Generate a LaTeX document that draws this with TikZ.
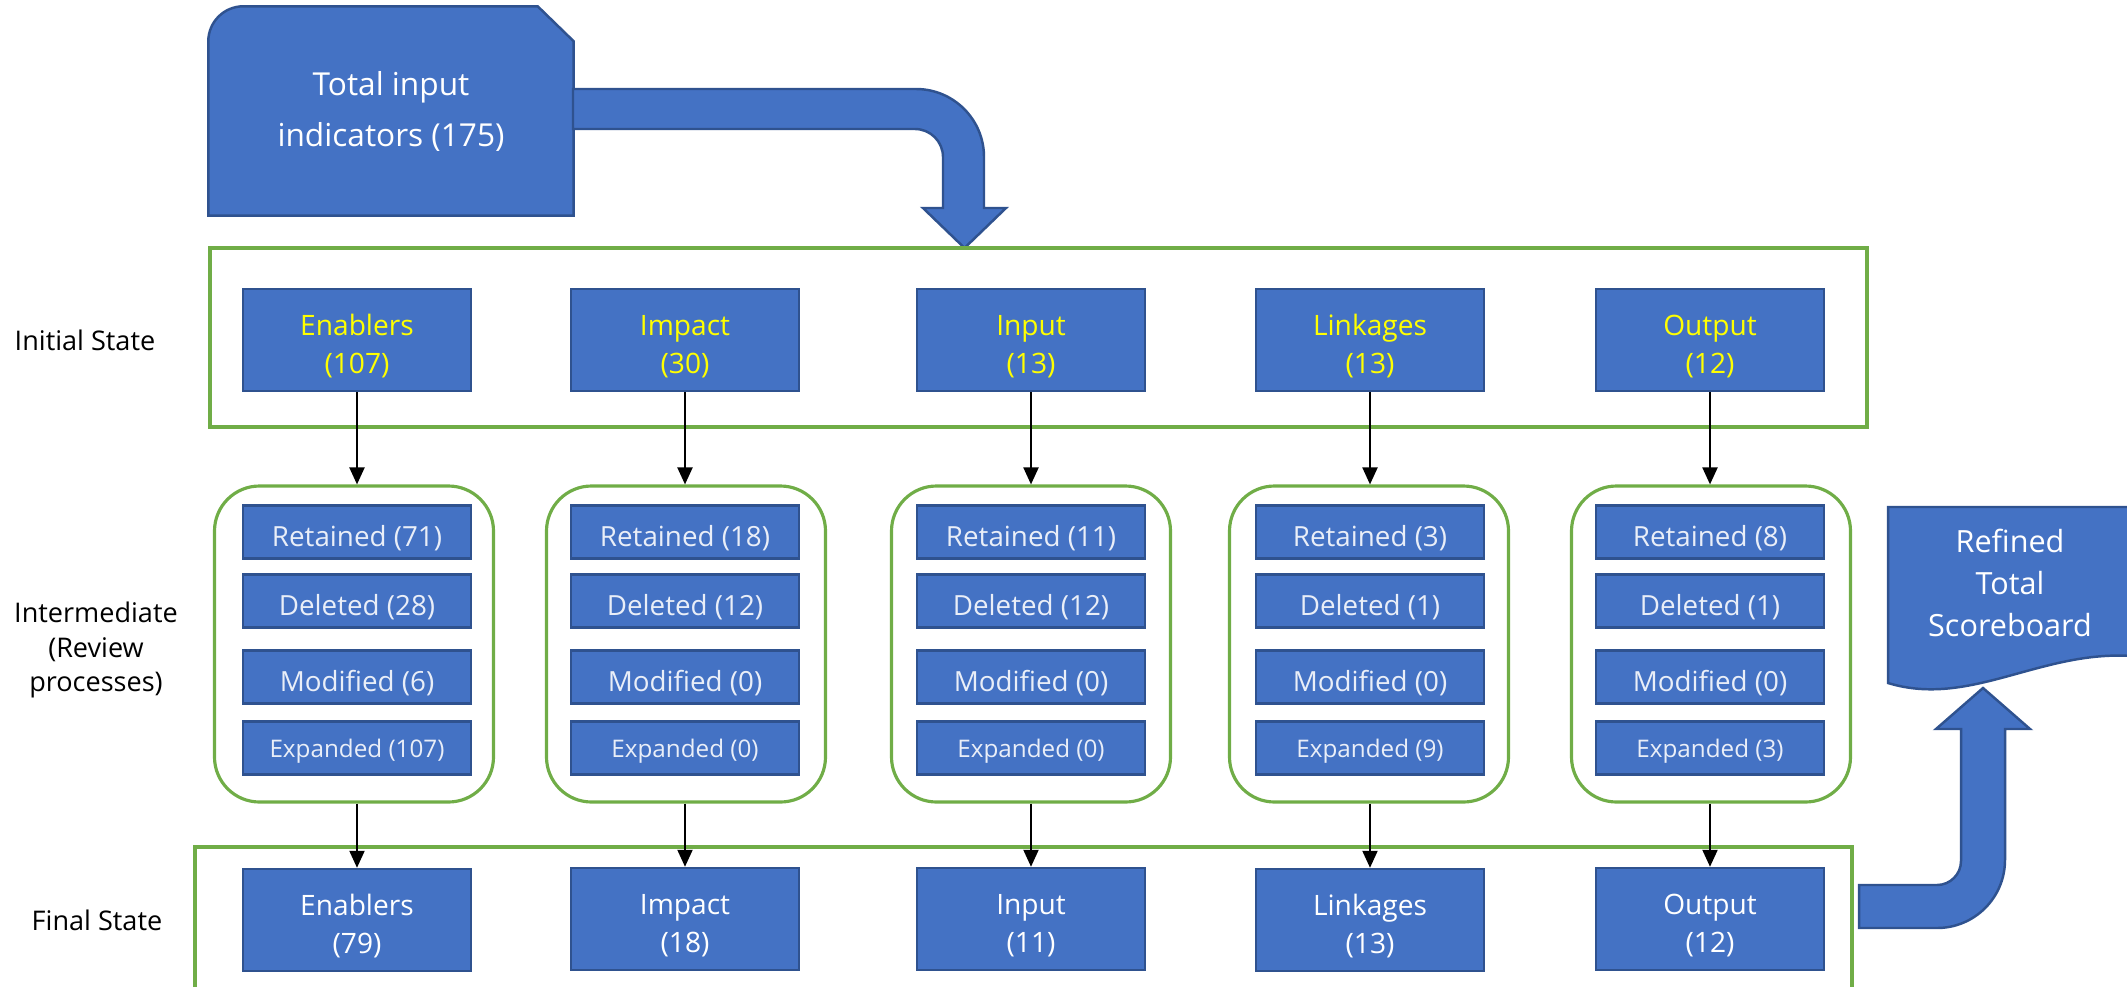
\documentclass[tikz,border=0pt]{standalone}
\usepackage{fontspec}
\setmainfont{Open Sans}
\usetikzlibrary{arrows.meta,backgrounds}
\definecolor{boxblue}{HTML}{4472C4}
\definecolor{edgeblue}{HTML}{2F528F}
\definecolor{framegreen}{HTML}{70AD47}
\definecolor{labelyellow}{HTML}{FFFF00}
\newcommand{\topstrut}{\rule{0pt}{9.3pt}}

\begin{document}
\begin{tikzpicture}
              \tikzstyle{catbox}=[draw=edgeblue, fill=boxblue, line width=0.7pt, minimum width=2.28cm, minimum height=1.02cm, align=center, inner sep=0pt, font=\fontsize{8}{10.8}\selectfont]
              \tikzstyle{initbox}=[catbox, text=labelyellow]
              \tikzstyle{finalbox}=[catbox, text=white]
              \tikzstyle{stepbox}=[draw=edgeblue, fill=boxblue, line width=0.7pt, minimum width=2.28cm, minimum height=0.53cm, inner sep=0pt, text height=8.6pt, text depth=0.26pt, text=white!88!boxblue, font=\fontsize{7.9}{9}\selectfont]
              \tikzstyle{expbox}=[stepbox, text height=5.4pt, text depth=0.24pt, font=\fontsize{6.9}{8}\selectfont]
              \tikzstyle{groupbox}=[draw=framegreen, line width=0.9pt, rounded corners=0.45cm, minimum width=2.79cm, minimum height=3.16cm]
              \tikzstyle{stateframe}=[draw=framegreen, line width=0.9pt, minimum width=16.57cm, minimum height=1.79cm]
              \tikzstyle{rowlabel}=[align=center, font=\fontsize{7.7}{9.7}\selectfont]
              \tikzstyle{flow}=[black, line width=0.6pt, -{Triangle[length=1.7mm,width=1.5mm]}]
              \tikzstyle{blockshape}=[draw=edgeblue, fill=boxblue, line width=0.7pt]
              \useasboundingbox (0,0) rectangle (21.27,-9.87);
              \node [rowlabel] (lblinit) at (0.85,-3.40) {Initial State};
              \node [rowlabel] (lblmid) at (0.96,-6.50) {Intermediate\\(Review\\processes)};
              \node [rowlabel] (lblfinal) at (0.97,-9.20) {Final State};
              \node [align=center, text=white, minimum width=3.64cm, minimum height=2.08cm, font=\fontsize{9}{14.5}\selectfont] (total) at (3.91,-1.11) {Total input\\indicators (175)};
              \begin{scope}[on background layer]
              \draw [blockshape] (total.south west) -- ([yshift=-0.35cm]total.north west) arc (180:90:0.35) -- ([xshift=-0.36cm]total.north east) -- ([yshift=-0.35cm]total.north east) -- (total.south east) -- cycle;
              \draw [blockshape] (18.88,-5.07) -- (21.40,-5.07) -- (21.40,-6.56) -- (21.32,-6.56) .. controls (20.40,-6.50) and (19.70,-7.08) .. (18.88,-6.83) -- cycle;
              \end{scope}
              \draw [blockshape] (5.73,-0.89) -- (9.16,-0.89) arc (90:0:0.68) -- (9.84,-2.08) -- (10.06,-2.08) -- (9.645,-2.48) -- (9.23,-2.08) -- (9.43,-2.08) -- (9.43,-1.57) arc (0:90:0.28) -- (5.73,-1.29) -- cycle;
              \node [stateframe] (initframe) at (10.385,-3.375) {};
              \draw [framegreen, line width=0.9pt] (1.95,-9.87) -- (1.95,-8.47) -- (18.52,-8.47) -- (18.52,-9.87);
              \node [initbox] (init1) at (3.57,-3.40) {\topstrut Enablers\\(107)};
              \node [initbox] (init2) at (6.85,-3.40) {\topstrut Impact\\(30)};
              \node [initbox] (init3) at (10.31,-3.40) {\topstrut Input\\(13)};
              \node [initbox] (init4) at (13.70,-3.40) {\topstrut Linkages\\(13)};
              \node [initbox] (init5) at (17.10,-3.40) {\topstrut Output\\(12)};
              \node [groupbox] (grp1) at (3.54,-6.44) {};
              \node [groupbox] (grp2) at (6.86,-6.44) {};
              \node [groupbox] (grp3) at (10.31,-6.44) {};
              \node [groupbox] (grp4) at (13.69,-6.44) {};
              \node [groupbox] (grp5) at (17.11,-6.44) {};
              \node [stepbox] (ret1) at (3.57,-5.32) {Retained (71)};
              \node [stepbox] (del1) at (3.57,-6.01) {Deleted (28)};
              \node [stepbox] (mod1) at (3.57,-6.77) {Modified (6)};
              \node [expbox] (exp1) at (3.57,-7.48) {Expanded (107)};
              \node [stepbox] (ret2) at (6.85,-5.32) {Retained (18)};
              \node [stepbox] (del2) at (6.85,-6.01) {Deleted (12)};
              \node [stepbox] (mod2) at (6.85,-6.77) {Modified (0)};
              \node [expbox] (exp2) at (6.85,-7.48) {Expanded (0)};
              \node [stepbox] (ret3) at (10.31,-5.32) {Retained (11)};
              \node [stepbox] (del3) at (10.31,-6.01) {Deleted (12)};
              \node [stepbox] (mod3) at (10.31,-6.77) {Modified (0)};
              \node [expbox] (exp3) at (10.31,-7.48) {Expanded (0)};
              \node [stepbox] (ret4) at (13.70,-5.32) {Retained (3)};
              \node [stepbox] (del4) at (13.70,-6.01) {Deleted (1)};
              \node [stepbox] (mod4) at (13.70,-6.77) {Modified (0)};
              \node [expbox] (exp4) at (13.70,-7.48) {Expanded (9)};
              \node [stepbox] (ret5) at (17.10,-5.32) {Retained (8)};
              \node [stepbox] (del5) at (17.10,-6.01) {Deleted (1)};
              \node [stepbox] (mod5) at (17.10,-6.77) {Modified (0)};
              \node [expbox] (exp5) at (17.10,-7.48) {Expanded (3)};
              \node [finalbox] (fin1) at (3.57,-9.20) {\topstrut Enablers\\(79)};
              \node [finalbox] (fin2) at (6.85,-9.19) {\topstrut Impact\\(18)};
              \node [finalbox] (fin3) at (10.31,-9.19) {\topstrut Input\\(11)};
              \node [finalbox] (fin4) at (13.70,-9.20) {\topstrut Linkages\\(13)};
              \node [finalbox] (fin5) at (17.10,-9.19) {\topstrut Output\\(12)};
              \draw [flow] (init1.south) -- (grp1.north -| init1.south);
              \draw [flow] (init2.south) -- (grp2.north -| init2.south);
              \draw [flow] (init3.south) -- (grp3.north -| init3.south);
              \draw [flow] (init4.south) -- (grp4.north -| init4.south);
              \draw [flow] (init5.south) -- (grp5.north -| init5.south);
              \draw [flow] (grp1.south -| fin1.north) -- (fin1.north);
              \draw [flow] (grp2.south -| fin2.north) -- (fin2.north);
              \draw [flow] (grp3.south -| fin3.north) -- (fin3.north);
              \draw [flow] (grp4.south -| fin4.north) -- (fin4.north);
              \draw [flow] (grp5.south -| fin5.north) -- (fin5.north);
              \draw [blockshape] (18.59,-8.85) -- (19.37,-8.85) arc (270:360:0.24) -- (19.61,-7.29) -- (19.36,-7.29) -- (19.83,-6.88) -- (20.30,-7.29) -- (20.05,-7.29) -- (20.05,-8.60) arc (0:-90:0.68) -- (18.59,-9.28) -- cycle;
              \node [align=center, text=white, font=\fontsize{8.7}{12}\selectfont] (refined) at (20.10,-5.83) {Refined\\Total\\Scoreboard};
            \end{tikzpicture}
\end{document}
